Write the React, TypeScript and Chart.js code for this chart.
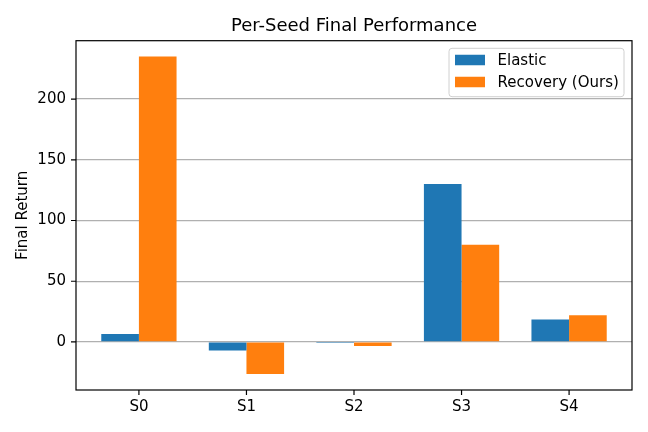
import React, { useEffect, useRef } from "react";
import { Chart, registerables } from "chart.js";

Chart.register(...registerables);

const CATEGORIES = ["S0", "S1", "S2", "S3", "S4"];
const ELASTIC = [6.5, -7, -0.8, 130, 18.5];
const RECOVERY = [235, -26.5, -3.3, 80, 22];
const Y_TICKS = [0, 50, 100, 150, 200];
const SERIES_NAMES = ["Elastic", "Recovery (Ours)"];
const COLORS = ["#1f77b4", "#ff7f0e"];
const TITLE = "Per-Seed Final Performance";
const Y_LABEL = "Final Return";

const FONT = "'DejaVu Sans', sans-serif";

const allVals = [...ELASTIC, ...RECOVERY, 0];
const dMin = Math.min(...allVals);
const dMax = Math.max(...allVals);
const yPad = (dMax - dMin) * 0.05;
const Y_MIN = dMin - yPad;
const Y_MAX = dMax + yPad;
const X_MIN = -0.35 - 4.7 * 0.05;
const X_MAX = CATEGORIES.length - 1 + 0.35 + 4.7 * 0.05;

const decorPlugin = {
  id: "decor",
  afterDraw(chart: any) {
    const { ctx, chartArea, scales } = chart;
    const { left, right, top, bottom } = chartArea;
    ctx.save();
    // frame
    ctx.strokeStyle = "#000";
    ctx.lineWidth = 1.2;
    ctx.strokeRect(left, top, right - left, bottom - top);
    // tick marks
    ctx.beginPath();
    CATEGORIES.forEach((_, i) => {
      const x = scales.x.getPixelForValue(i);
      ctx.moveTo(x, bottom);
      ctx.lineTo(x, bottom + 5);
    });
    Y_TICKS.forEach((v) => {
      const y = scales.y.getPixelForValue(v);
      ctx.moveTo(left, y);
      ctx.lineTo(left - 5, y);
    });
    ctx.stroke();
    // title
    ctx.fillStyle = "#000";
    ctx.font = `18px ${FONT}`;
    ctx.textAlign = "center";
    ctx.textBaseline = "alphabetic";
    ctx.fillText(TITLE, (left + right) / 2, top - 10);
    // y label
    ctx.save();
    ctx.translate(23, (top + bottom) / 2);
    ctx.rotate(-Math.PI / 2);
    ctx.font = `15px ${FONT}`;
    ctx.textAlign = "center";
    ctx.textBaseline = "middle";
    ctx.fillText(Y_LABEL, 0, 0);
    ctx.restore();
    // legend
    const lx = 449, ly = 48.3, lw = 175, lh = 48.4, r = 3;
    ctx.beginPath();
    ctx.moveTo(lx + r, ly);
    ctx.lineTo(lx + lw - r, ly);
    ctx.arcTo(lx + lw, ly, lx + lw, ly + r, r);
    ctx.lineTo(lx + lw, ly + lh - r);
    ctx.arcTo(lx + lw, ly + lh, lx + lw - r, ly + lh, r);
    ctx.lineTo(lx + r, ly + lh);
    ctx.arcTo(lx, ly + lh, lx, ly + lh - r, r);
    ctx.lineTo(lx, ly + r);
    ctx.arcTo(lx, ly, lx + r, ly, r);
    ctx.closePath();
    ctx.fillStyle = "rgba(255,255,255,0.8)";
    ctx.fill();
    ctx.strokeStyle = "#d0d0d0";
    ctx.lineWidth = 1;
    ctx.stroke();
    ctx.font = `15px ${FONT}`;
    ctx.textAlign = "left";
    ctx.textBaseline = "middle";
    SERIES_NAMES.forEach((name, i) => {
      const cy = 60 + i * 22;
      ctx.fillStyle = COLORS[i];
      ctx.fillRect(455, cy - 5.25, 30, 10.5);
      ctx.fillStyle = "#000";
      ctx.fillText(name, 497.5, cy + 1);
    });
    ctx.restore();
  },
};

export default function App() {
  const ref = useRef<HTMLCanvasElement>(null);
  useEffect(() => {
    document.body.style.margin = "0";
    const canvas = ref.current!;
    const chart = new Chart(canvas, {
      type: "bar",
      data: {
        datasets: [ELASTIC, RECOVERY].map((vals, i) => ({
          label: SERIES_NAMES[i],
          data: vals.map((v, j) => ({ x: j, y: v })),
          backgroundColor: COLORS[i],
          borderWidth: 0,
          categoryPercentage: 0.7,
          barPercentage: 1.0,
        })),
      },
      options: {
        animation: false,
        responsive: true,
        maintainAspectRatio: false,
        devicePixelRatio: 1,
        layout: { padding: { left: 0, right: 16, top: 40.7, bottom: 0 } },
        plugins: {
          legend: { display: false },
          title: { display: false },
          tooltip: { enabled: false },
        },
        scales: {
          x: {
            type: "linear",
            min: X_MIN,
            max: X_MAX,
            offset: false,
            border: { display: false },
            grid: {
              offset: false,
              drawOnChartArea: false,
              drawTicks: true,
              tickLength: 5,
              tickColor: "rgba(0,0,0,0)",
            },
            afterBuildTicks: (scale: any) => {
              scale.ticks = CATEGORIES.map((_, i) => ({ value: i }));
            },
            afterFit: (scale: any) => {
              scale.height = 432 - 390;
            },
            ticks: {
              autoSkip: false,
              maxRotation: 0,
              padding: 3,
              color: "#000",
              font: { family: FONT, size: 15 },
              callback: (v: any) => CATEGORIES[Math.round(Number(v))] ?? "",
            },
          },
          y: {
            type: "linear",
            min: Y_MIN,
            max: Y_MAX,
            z: 1,
            border: { display: false },
            grid: {
              color: "#b0b0b0",
              lineWidth: 1.2,
              drawTicks: true,
              tickLength: 5,
              tickColor: "rgba(0,0,0,0)",
            },
            afterBuildTicks: (scale: any) => {
              scale.ticks = Y_TICKS.map((v) => ({ value: v }));
            },
            afterFit: (scale: any) => {
              scale.width = 76;
            },
            ticks: {
              padding: 5,
              color: "#000",
              font: { family: FONT, size: 15 },
              callback: (v: any) => String(v),
            },
          },
        },
      },
      plugins: [decorPlugin],
    });
    return () => chart.destroy();
  }, []);
  return (
    <div style={{ width: 648, height: 432, position: "relative" }}>
      <canvas ref={ref} />
    </div>
  );
}
